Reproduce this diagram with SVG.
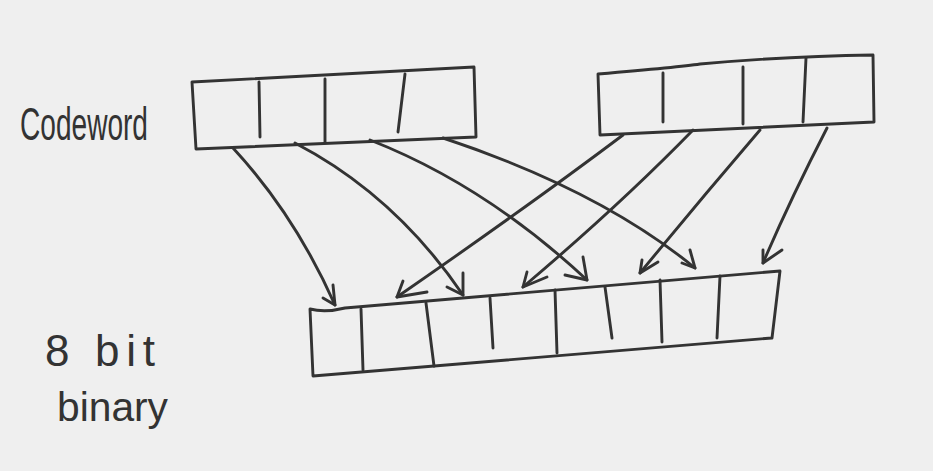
<svg xmlns="http://www.w3.org/2000/svg" width="933" height="471" viewBox="0 0 933 471">
<style>
.ln{fill:none;stroke:#333;stroke-width:2.9;stroke-linecap:round;stroke-linejoin:round}
.lbl{font-family:"Liberation Sans","DejaVu Sans",sans-serif;fill:#333}
</style>
<rect width="933" height="471" fill="#efefef"/>
<g id="label-codeword"><text class="lbl" x="20" y="140" font-size="46" textLength="128" lengthAdjust="spacingAndGlyphs">Codeword</text></g>
<g id="label-8bit"><text class="lbl" x="45" y="366" font-size="44" textLength="110" lengthAdjust="spacing">8 bit</text></g>
<g id="label-binary"><text class="lbl" x="57" y="421" font-size="40" textLength="111" lengthAdjust="spacingAndGlyphs">binary</text></g>
<g id="codeword-left">
<path class="ln" d="M192,82 L474,67 L476,137 L196,149 Z"/>
<path class="ln" d="M259,82 L260,137 M325,79 L325,142 M405,74 L398,132"/>
</g>
<g id="codeword-right">
<path class="ln" d="M598,74 Q680,67 700,64 Q790,56 873,55 L874,122 L600,135 Z"/>
<path class="ln" d="M663,73 L663,122 M743,67 L743,124 M806,58 L803,122"/>
</g>
<g id="binary8">
<path class="ln" d="M310,309 Q325,313 345,308 L780,271 L772,338 L313,376 Z"/>
<path class="ln" d="M361,309 L363,370 M426,303 L434,366 M490,298 L493,348 M555,290 L557,353 M605,287 L612,338 M660,280 L662,342 M720,276 L717,338"/>
</g>
<g id="connectors">
<path class="ln" d="M233,148 Q295,215 335,305"/>
<path class="ln" d="M323,298 L335,305 L333,285"/>
<path class="ln" d="M295,143 Q395,195 463,295"/>
<path class="ln" d="M447,287 L463,295 L463,273"/>
<path class="ln" d="M370,140 Q485,185 587,280"/>
<path class="ln" d="M565,275 L587,280 L583,257"/>
<path class="ln" d="M443,138 Q600,190 695,268"/>
<path class="ln" d="M682,263 L695,268 L690,250"/>
<path class="ln" d="M623,135 Q530,205 397,297"/>
<path class="ln" d="M427,292 L397,297 L403,281"/>
<path class="ln" d="M693,130 Q620,205 523,287"/>
<path class="ln" d="M527,272 L523,287 L547,277"/>
<path class="ln" d="M760,130 Q700,200 640,273"/>
<path class="ln" d="M642,260 L640,273 L658,262"/>
<path class="ln" d="M827,128 Q790,200 763,263"/>
<path class="ln" d="M763,250 L763,263 L782,250"/>
</g>
</svg>
